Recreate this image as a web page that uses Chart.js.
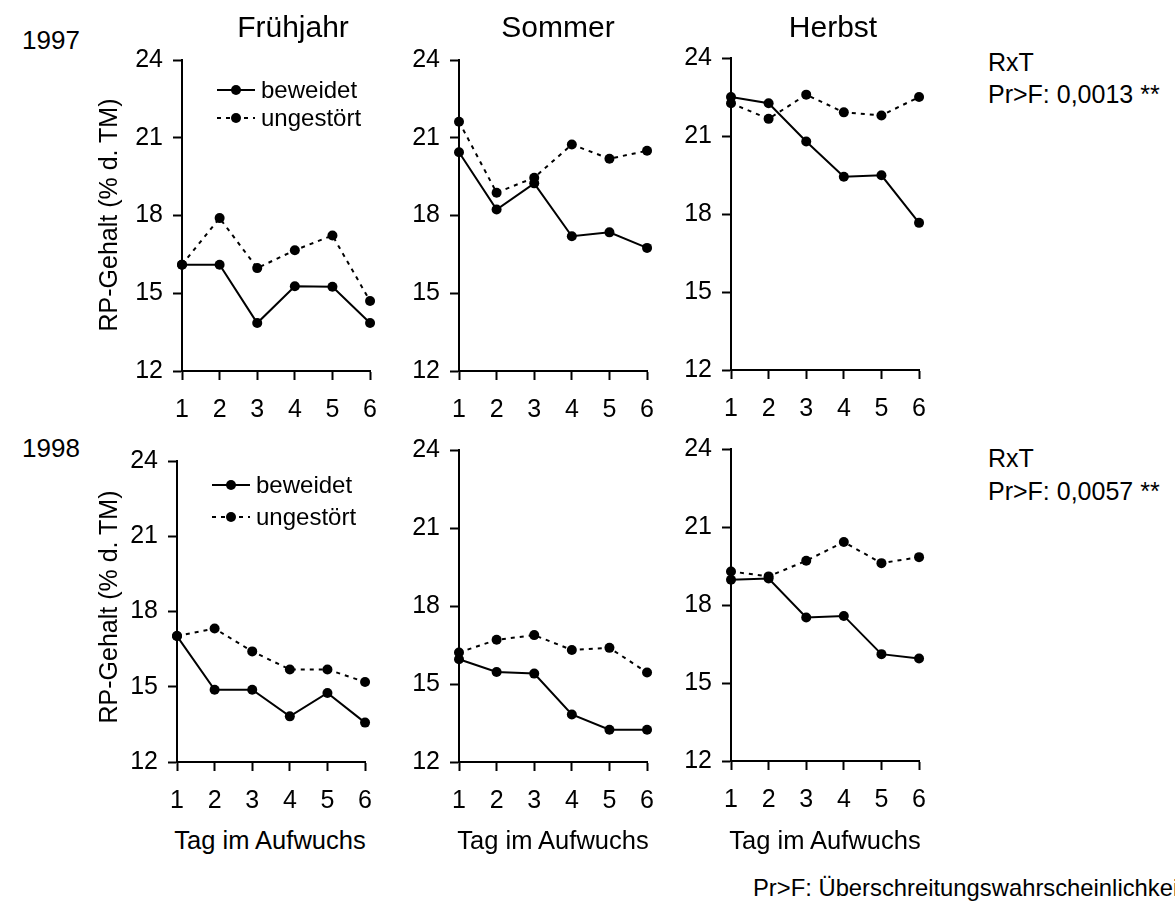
<!DOCTYPE html>
<html>
<head>
<meta charset="utf-8">
<script src="https://cdn.jsdelivr.net/npm/chart.js@4.4.1/dist/chart.umd.min.js"></script>
<style>
  html, body { margin: 0; padding: 0; background: #fff; }
  body { width: 1175px; height: 901px; position: relative; overflow: hidden; font-family: "Liberation Sans", Arial, sans-serif; color: #000; }
  .lbl { position: absolute; white-space: nowrap; line-height: 1; transform: translateY(-50%); }
  .ctr { transform: translate(-50%, -50%); }
  .ytitle { position: absolute; white-space: nowrap; line-height: 1; transform: translate(-50%, -50%) rotate(-90deg); }
  .panel { position: absolute; }
</style>
</head>
<body>
<script>
// data
const days = ['1', '2', '3', '4', '5', '6'];
const yTicks = [12, 15, 18, 21, 24];
const seriesNames = ['beweidet', 'ungestört'];
const seasons = ['Frühjahr', 'Sommer', 'Herbst'];
const years = ['1997', '1998'];
const pValues = ['0,0013 **', '0,0057 **'];

const fruehjahr1997Beweidet = [16.1, 16.1, 13.85, 15.27, 15.25, 13.85];
const fruehjahr1997Ungestoert = [16.1, 17.9, 15.97, 16.66, 17.23, 14.7];
const sommer1997Beweidet = [20.44, 18.23, 19.24, 17.2, 17.35, 16.75];
const sommer1997Ungestoert = [21.62, 18.88, 19.46, 20.74, 20.19, 20.5];
const herbst1997Beweidet = [22.5, 22.26, 20.79, 19.43, 19.49, 17.66];
const herbst1997Ungestoert = [22.26, 21.66, 22.59, 21.91, 21.79, 22.5];

const fruehjahr1998Beweidet = [17.02, 14.88, 14.88, 13.82, 14.75, 13.57];
const fruehjahr1998Ungestoert = [17.02, 17.32, 16.41, 15.69, 15.69, 15.19];
const sommer1998Beweidet = [15.95, 15.46, 15.4, 13.83, 13.24, 13.24];
const sommer1998Ungestoert = [16.21, 16.7, 16.88, 16.31, 16.39, 15.44];
const herbst1998Beweidet = [18.97, 19.02, 17.52, 17.58, 16.11, 15.94];
const herbst1998Ungestoert = [19.29, 19.1, 19.7, 20.42, 19.61, 19.84];

const FONT = '"Liberation Sans", Arial, sans-serif';
Chart.defaults.font.family = FONT;
Chart.defaults.color = '#000';

// plot areas (pixel boxes of each panel)
const panels = [
  { left: 181.7, top: 60, right: 369.3, bottom: 371, a: fruehjahr1997Beweidet, b: fruehjahr1997Ungestoert, legend: [30, 58] },
  { left: 459.3, top: 60, right: 647, bottom: 371, a: sommer1997Beweidet, b: sommer1997Ungestoert },
  { left: 730.7, top: 57.7, right: 918.7, bottom: 370, a: herbst1997Beweidet, b: herbst1997Ungestoert },
  { left: 176.7, top: 460.7, right: 364.3, bottom: 761.7, a: fruehjahr1998Beweidet, b: fruehjahr1998Ungestoert, legend: [24, 56] },
  { left: 459.3, top: 450, right: 647, bottom: 761.7, a: sommer1998Beweidet, b: sommer1998Ungestoert },
  { left: 730.7, top: 449.3, right: 918.7, bottom: 761, a: herbst1998Beweidet, b: herbst1998Ungestoert }
];

const DASH = [4, 5];

// little legend drawn inside the plot area
const panelLegend = {
  id: 'panelLegend',
  afterDatasetsDraw(chart, args, opts) {
    if (!opts.rows) return;
    const ctx = chart.ctx;
    const area = chart.chartArea;
    ctx.save();
    opts.rows.forEach((dy, i) => {
      const y = area.top + dy;
      const x0 = area.left + 35, x1 = area.left + 73;
      ctx.strokeStyle = '#000';
      ctx.lineWidth = 2;
      ctx.setLineDash(i === 0 ? [] : DASH);
      ctx.beginPath();
      ctx.moveTo(x0, y);
      ctx.lineTo(x1, y);
      ctx.stroke();
      ctx.setLineDash([]);
      ctx.fillStyle = '#000';
      ctx.beginPath();
      ctx.arc((x0 + x1) / 2, y, 5, 0, Math.PI * 2);
      ctx.fill();
      ctx.font = '24px ' + FONT;
      ctx.textAlign = 'left';
      ctx.textBaseline = 'middle';
      ctx.fillText(seriesNames[i], x1 + 6, y + 1);
    });
    ctx.restore();
  }
};

const YW = 70, XH = 60, PT = 15, PR = 15;

function panelConfig(p) {
  const axisGrid = { display: true, drawOnChartArea: false, drawTicks: true, tickLength: 9, tickColor: '#000', tickWidth: 2 };
  const axisBorder = { display: true, color: '#000', width: 2 };
  return {
    type: 'line',
    data: {
      labels: days,
      datasets: [
        { label: seriesNames[0], data: p.a, borderColor: '#000', backgroundColor: '#000', borderWidth: 2,
          pointRadius: 5, pointHoverRadius: 5, pointBorderWidth: 0, tension: 0, clip: false },
        { label: seriesNames[1], data: p.b, borderColor: '#000', backgroundColor: '#000', borderWidth: 2, borderDash: DASH,
          pointRadius: 5, pointHoverRadius: 5, pointBorderWidth: 0, tension: 0, clip: false }
      ]
    },
    options: {
      responsive: false,
      maintainAspectRatio: false,
      animation: false,
      events: [],
      layout: { padding: { top: PT, right: PR, left: 0, bottom: 0 } },
      plugins: { legend: { display: false }, tooltip: { enabled: false }, panelLegend: { rows: p.legend } },
      scales: {
        x: {
          offset: false,
          grid: axisGrid,
          border: axisBorder,
          ticks: { color: '#000', font: { size: 25 }, padding: 15, maxRotation: 0, autoSkip: false },
          afterFit(s) { s.height = XH; }
        },
        y: {
          min: yTicks[0],
          max: yTicks[yTicks.length - 1],
          grid: axisGrid,
          border: axisBorder,
          ticks: { color: '#000', font: { size: 25 }, padding: 10, stepSize: yTicks[1] - yTicks[0] },
          afterFit(s) { s.width = YW; }
        }
      }
    },
    plugins: [panelLegend]
  };
}

function makePanel(p) {
  const box = document.createElement('div');
  box.className = 'panel';
  const canvas = document.createElement('canvas');
  box.appendChild(canvas);
  document.body.appendChild(box);

  // first pass: see where Chart.js puts the plot area, then size the canvas to fit
  let w = Math.round(YW + (p.right - p.left) + PR);
  let h = Math.round(PT + (p.bottom - p.top) + XH);
  canvas.width = w;
  canvas.height = h;
  let chart = new Chart(canvas, panelConfig(p));
  let a = chart.chartArea;
  w = Math.round(w + (p.right - p.left) - (a.right - a.left));
  h = Math.round(h + (p.bottom - p.top) - (a.bottom - a.top));
  chart.destroy();

  canvas.width = w;
  canvas.height = h;
  canvas.style.width = w + 'px';
  canvas.style.height = h + 'px';
  chart = new Chart(canvas, panelConfig(p));
  a = chart.chartArea;
  box.style.left = (p.left - a.left) + 'px';
  box.style.top = (p.top - a.top) + 'px';
}

panels.forEach(makePanel);

// texts around the panels
function addText(txt, x, y, size, cls) {
  const d = document.createElement('div');
  d.className = cls || 'lbl';
  d.textContent = txt;
  d.style.left = x + 'px';
  d.style.top = y + 'px';
  d.style.fontSize = size + 'px';
  document.body.appendChild(d);
}

const titleX = [293, 558, 833];
seasons.forEach((s, i) => addText(s, titleX[i], 27, 30, 'lbl ctr'));

addText(years[0], 22, 40, 26);
addText(years[1], 22, 448, 26);

addText('RP-Gehalt (% d. TM)', 108, 215, 25, 'ytitle');
addText('RP-Gehalt (% d. TM)', 108, 607, 25, 'ytitle');

addText('RxT', 988, 62, 25);
addText('Pr>F: ' + pValues[0], 988, 94, 25);
addText('RxT', 988, 458, 25);
addText('Pr>F: ' + pValues[1], 988, 491, 25);

const xTitleX = [270, 553, 825];
xTitleX.forEach(x => addText('Tag im Aufwuchs', x, 841, 25.5, 'lbl ctr'));

addText('Pr>F: Überschreitungswahrscheinlichkeit', 753, 888, 23.8);
</script>
</body>
</html>
